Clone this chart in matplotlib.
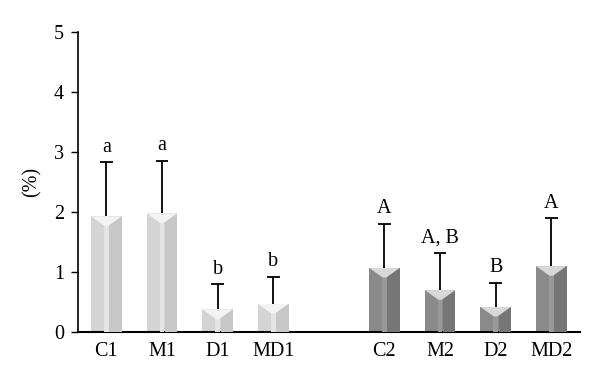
"""Bar chart with beveled bars, upper error bars and significance letters."""

import matplotlib
matplotlib.use("Agg")
import matplotlib.pyplot as plt
from matplotlib.patches import Polygon

# data
categories = ["C1", "M1", "D1", "MD1", "C2", "M2", "D2", "MD2"]
positions = [0, 1, 2, 3, 5, 6, 7, 8]
means = [1.93, 1.98, 0.38, 0.47, 1.07, 0.70, 0.42, 1.10]
errors = [0.90, 0.88, 0.42, 0.45, 0.74, 0.62, 0.40, 0.80]
letters = ["a", "a", "b", "b", "A", "A, B", "B", "A"]
groups = [0, 0, 0, 0, 1, 1, 1, 1]

# face colours per group: front, right side, centre stripe, top
FACE = [("#d4d4d4", "#c7c7c7", "#e4e4e4", "#f3f3f3"),
        ("#8a8a8a", "#767676", "#989898", "#d8d8d8")]
WIDTH = 0.55
NOTCH = 0.16
CAP = 0.115
FS = 14.5

plt.rcParams["font.family"] = ["Liberation Serif", "DejaVu Serif"]

fig = plt.figure(figsize=(6.0, 3.83), dpi=100)
ax = fig.add_axes([0.13, 0.133, 0.837, 0.783])

ax.bar(positions, means, width=WIDTH, color=[FACE[g][0] for g in groups],
       linewidth=0, zorder=2)

for x, v, g in zip(positions, means, groups):
    front, side, stripe, top = FACE[g]
    h = WIDTH / 2
    d = min(NOTCH, v * 0.6)
    ax.add_patch(Polygon([(x + 0.2 * h, 0), (x + h, 0), (x + h, v), (x + 0.2 * h, v)],
                         closed=True, color=side, lw=0, zorder=3))
    ax.add_patch(Polygon([(x - 0.15 * h, 0), (x + 0.15 * h, 0),
                          (x + 0.15 * h, v), (x - 0.15 * h, v)],
                         closed=True, color=stripe, lw=0, zorder=3))
    ax.add_patch(Polygon([(x - h, v), (x + h, v), (x + 0.12 * h, v - d), (x - 0.12 * h, v - d)],
                         closed=True, color=top, lw=0, zorder=4))

# upper error bars only, no lower cap
tops = [v + e for v, e in zip(means, errors)]
ax.vlines(positions, means, tops, color="black", lw=1.3, zorder=5)
ax.hlines(tops, [p - CAP for p in positions], [p + CAP for p in positions],
          color="black", lw=1.3, zorder=5)

for x, t, lab in zip(positions, tops, letters):
    ax.annotate(lab, (x, t), xytext=(0, 4), textcoords="offset points",
                ha="center", va="bottom", fontsize=FS)

ax.set_xlim(-0.51, 8.52)
ax.set_ylim(0, 5)
ax.set_xticks(positions)
ax.set_xticklabels(categories, fontsize=FS)
ax.tick_params(axis="x", length=0, pad=7)
ax.tick_params(axis="y", length=5, width=1, labelsize=FS, direction="out", pad=5)
ax.set_yticks([0, 1, 2, 3, 4, 5])
ax.set_ylabel("(%)", fontsize=FS, labelpad=9)

for s in ("top", "right"):
    ax.spines[s].set_visible(False)
ax.spines["left"].set_linewidth(1.2)
ax.spines["bottom"].set_linewidth(1.5)

fig.savefig("out.png", dpi=100)
